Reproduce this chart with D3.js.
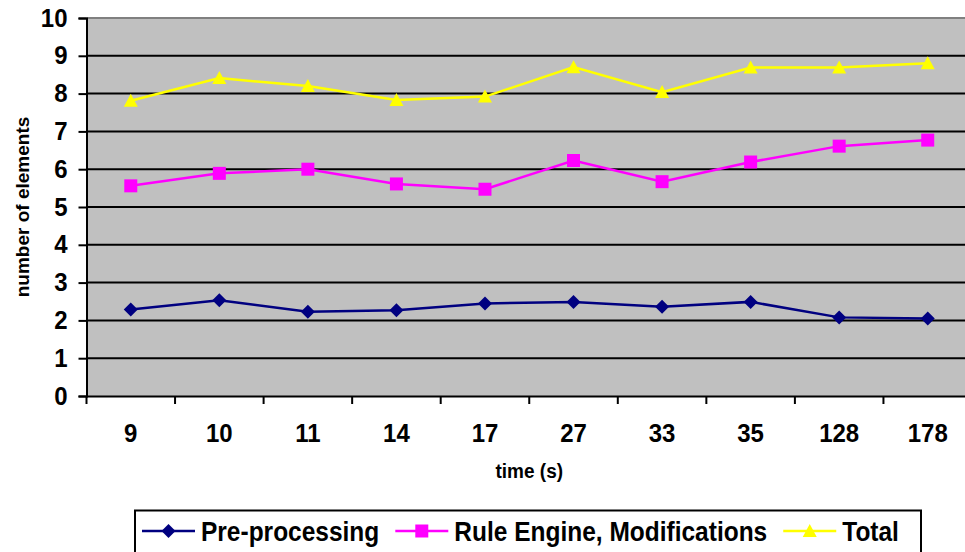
<!DOCTYPE html>
<html>
<head>
<meta charset="utf-8">
<script src="https://cdn.jsdelivr.net/npm/d3@7"></script>
<style>
  html, body { margin: 0; padding: 0; background: #fff; overflow: hidden; }
  svg text { font-family: "Liberation Sans", Arial, sans-serif; font-weight: bold; fill: #000; }
</style>
</head>
<body>
<div id="chart"></div>
<script>
const categories = ["9", "10", "11", "14", "17", "27", "33", "35", "128", "178"];
const yTicks = [0, 1, 2, 3, 4, 5, 6, 7, 8, 9, 10];
const preProcessing = [2.29, 2.53, 2.23, 2.27, 2.45, 2.49, 2.36, 2.49, 2.08, 2.05];
const ruleEngine = [5.56, 5.89, 6.0, 5.61, 5.47, 6.23, 5.67, 6.19, 6.61, 6.77];
const total = [7.81, 8.41, 8.2, 7.83, 7.92, 8.7, 8.04, 8.69, 8.69, 8.8];
const seriesNames = ["Pre-processing", "Rule Engine, Modifications", "Total"];

const width = 965;
const height = 552;
const plot = { left: 86.5, right: 972, top: 18, bottom: 396 };

const svg = d3.select("#chart").append("svg")
  .attr("width", width)
  .attr("height", height);

const x = d3.scaleBand()
  .domain(categories)
  .range([plot.left, plot.right])
  .padding(0);

const y = d3.scaleLinear()
  .domain([0, 10])
  .range([plot.bottom, plot.top]);

const series = [
  { name: seriesNames[0], values: preProcessing, color: "#000080", marker: "diamond" },
  { name: seriesNames[1], values: ruleEngine, color: "#FF00FF", marker: "square" },
  { name: seriesNames[2], values: total, color: "#FFFF00", marker: "triangle" }
];

// plot background
svg.append("rect")
  .attr("x", plot.left)
  .attr("y", plot.top)
  .attr("width", plot.right - plot.left)
  .attr("height", plot.bottom - plot.top)
  .attr("fill", "#C0C0C0");

// gridlines
svg.append("g")
  .selectAll("line")
  .data(yTicks.filter(d => d > 0 && d < 10))
  .join("line")
  .attr("x1", plot.left)
  .attr("x2", plot.right)
  .attr("y1", d => y(d))
  .attr("y2", d => y(d))
  .attr("stroke", "#000")
  .attr("stroke-width", 2);

svg.append("line")
  .attr("x1", plot.left)
  .attr("x2", plot.right)
  .attr("y1", y(10))
  .attr("y2", y(10))
  .attr("stroke", "#808080")
  .attr("stroke-width", 2);

// y axis
const yAxis = svg.append("g")
  .attr("transform", `translate(${plot.left},0)`)
  .call(d3.axisLeft(y).tickValues(yTicks).tickSize(8).tickPadding(0).tickFormat(d3.format("d")));
yAxis.attr("font-size", null).attr("font-family", null);
yAxis.select(".domain").attr("stroke", "#000").attr("stroke-width", 2);
yAxis.selectAll(".tick line").attr("stroke", "#000").attr("stroke-width", 2);
yAxis.selectAll(".tick text")
  .attr("x", null)
  .attr("dy", null)
  .attr("transform", "translate(-19,8) scale(1,1.1)")
  .style("font-size", "24px");

// x axis
const xAxis = svg.append("g")
  .attr("transform", `translate(0,${plot.bottom})`)
  .call(d3.axisBottom(x).tickSize(0).tickPadding(0));
xAxis.attr("font-size", null).attr("font-family", null);
xAxis.select(".domain").attr("stroke", "#000").attr("stroke-width", 2);
xAxis.selectAll(".tick text")
  .attr("y", null)
  .attr("dy", null)
  .attr("transform", "translate(0,46) scale(1,1.1)")
  .style("font-size", "24px");

// x tick marks at the band boundaries
const boundaries = categories.map(c => x(c)).concat([x(categories[categories.length - 1]) + x.bandwidth()]);
svg.append("g")
  .selectAll("line")
  .data(boundaries)
  .join("line")
  .attr("x1", d => d)
  .attr("x2", d => d)
  .attr("y1", plot.bottom)
  .attr("y2", plot.bottom + 8)
  .attr("stroke", "#000")
  .attr("stroke-width", 2);

// axis titles
svg.append("text")
  .attr("transform", `translate(${(plot.left + plot.right) / 2},478) scale(1,1.08)`)
  .attr("text-anchor", "middle")
  .style("font-size", "19px")
  .text("time (s)");

svg.append("text")
  .attr("transform", `translate(29,${(plot.top + plot.bottom) / 2}) rotate(-90)`)
  .attr("text-anchor", "middle")
  .style("font-size", "19px")
  .text("number of elements");

// markers
function markerPath(type) {
  if (type === "diamond") return "M0,-7L7,0L0,7L-7,0Z";
  if (type === "square") return "M-6.5,-6.5H6.5V6.5H-6.5Z";
  return "M0,-7L7,6L-7,6Z";
}

const line = d3.line()
  .x((d, i) => x(categories[i]) + x.bandwidth() / 2)
  .y(d => y(d));

series.forEach(s => {
  const g = svg.append("g");
  g.append("path")
    .datum(s.values)
    .attr("d", line)
    .attr("fill", "none")
    .attr("stroke", s.color)
    .attr("stroke-width", 2.5);
  g.selectAll("path.marker")
    .data(s.values)
    .join("path")
    .attr("class", "marker")
    .attr("d", markerPath(s.marker))
    .attr("transform", (d, i) => `translate(${x(categories[i]) + x.bandwidth() / 2},${y(d)})`)
    .attr("fill", s.color);
});

// legend
const legend = svg.append("g");
legend.append("rect")
  .attr("x", 135)
  .attr("y", 510.5)
  .attr("width", 786)
  .attr("height", 60)
  .attr("fill", "#fff")
  .attr("stroke", "#000")
  .attr("stroke-width", 2);

let cursor = 142;
const legendY = 531;
series.forEach(s => {
  const item = legend.append("g");
  item.append("line")
    .attr("x1", cursor)
    .attr("x2", cursor + 53)
    .attr("y1", legendY)
    .attr("y2", legendY)
    .attr("stroke", s.color)
    .attr("stroke-width", 2.5);
  item.append("path")
    .attr("d", markerPath(s.marker))
    .attr("transform", `translate(${cursor + 26.5},${legendY})`)
    .attr("fill", s.color);
  const label = item.append("text")
    .attr("transform", `translate(${cursor + 59},541) scale(1,1.12)`)
    .style("font-size", "24.5px")
    .text(s.name);
  cursor += 59 + label.node().getComputedTextLength() + 16;
});
</script>
</body>
</html>
